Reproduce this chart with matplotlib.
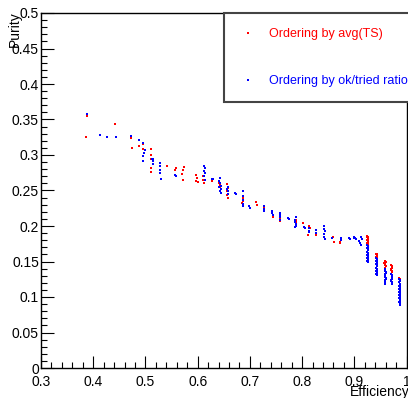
import matplotlib
matplotlib.use("Agg")
import matplotlib.pyplot as plt
from matplotlib.ticker import MultipleLocator, FormatStrFormatter

plt.rcParams['font.family'] = ['Liberation Sans', 'DejaVu Sans']

# Ordering by avg(TS)  (red)
eff_ts = [0.388, 0.386, 0.4415, 0.4715, 0.474, 0.4874, 0.495, 0.496, 0.510, 0.511,
          0.5136, 0.511, 0.5115, 0.511, 0.5415, 0.5576, 0.557, 0.5702, 0.5735, 0.572,
          0.571, 0.596, 0.598, 0.597, 0.600, 0.6112, 0.611, 0.6115, 0.6276, 0.6414,
          0.642, 0.6435, 0.656, 0.658, 0.657, 0.656, 0.658, 0.6863, 0.686, 0.685,
          0.712, 0.714, 0.7275, 0.727, 0.7427, 0.744, 0.758, 0.7585, 0.7877, 0.788,
          0.787, 0.7875, 0.8016, 0.8135, 0.815, 0.812, 0.8259, 0.826, 0.8584, 0.8603,
          0.8718, 0.873,
          0.925, 0.927, 0.926, 0.924, 0.927, 0.925, 0.926, 0.927, 0.924, 0.926, 0.925,
          0.942, 0.944, 0.943, 0.942, 0.944, 0.943, 0.941,
          0.958, 0.960, 0.959, 0.958, 0.960, 0.959, 0.957, 0.960,
          0.971, 0.973, 0.972, 0.971, 0.973, 0.972, 0.971, 0.972, 0.973, 0.970,
          0.986, 0.988, 0.987, 0.986, 0.988]
pur_ts = [0.355, 0.325, 0.344, 0.324, 0.310, 0.313, 0.3085, 0.316, 0.309, 0.300,
          0.295, 0.294, 0.281, 0.276, 0.284, 0.281, 0.279, 0.2737, 0.283, 0.279,
          0.265, 0.272, 0.268, 0.264, 0.262, 0.270, 0.265, 0.261, 0.263, 0.261,
          0.255, 0.258, 0.259, 0.254, 0.249, 0.243, 0.240, 0.239, 0.235, 0.233,
          0.234, 0.230, 0.227, 0.223, 0.218, 0.213, 0.211, 0.2075, 0.208, 0.203,
          0.199, 0.2055, 0.204, 0.200, 0.197, 0.187, 0.190, 0.187, 0.184, 0.178,
          0.177, 0.176,
          0.186, 0.184, 0.182, 0.180, 0.178, 0.176, 0.174, 0.172, 0.185, 0.179, 0.175,
          0.161, 0.159, 0.157, 0.155, 0.153, 0.160, 0.156,
          0.151, 0.149, 0.147, 0.145, 0.143, 0.141, 0.148, 0.144,
          0.145, 0.143, 0.141, 0.139, 0.137, 0.135, 0.133, 0.131, 0.144, 0.138,
          0.127, 0.125, 0.123, 0.121, 0.126]

# Ordering by ok/tried ratio  (blue)
eff_ok = [0.388, 0.413, 0.4257, 0.444, 0.4715, 0.4874, 0.4956, 0.500, 0.498, 0.495,
          0.4956, 0.5123, 0.5142, 0.5136, 0.5136,
          0.527, 0.528, 0.527, 0.528, 0.529,
          0.5582, 0.556,
          0.613, 0.614, 0.613, 0.614, 0.613, 0.614,
          0.6276, 0.630,
          0.642, 0.641, 0.642, 0.641, 0.642, 0.6442, 0.644, 0.6445,
          0.6576, 0.657, 0.658, 0.6575,
          0.671, 0.673,
          0.6869, 0.687, 0.686, 0.687, 0.6865,
          0.6978, 0.700,
          0.727, 0.728, 0.7275,
          0.742, 0.743, 0.7435,
          0.758, 0.758, 0.7585, 0.758,
          0.7724, 0.775,
          0.7877, 0.787, 0.788, 0.7875, 0.787, 0.787, 0.788,
          0.8035, 0.806,
          0.8135, 0.814, 0.8135,
          0.8273, 0.8275,
          0.8425, 0.842, 0.843, 0.8425, 0.842, 0.843,
          0.8565,
          0.8737, 0.874,
          0.889, 0.891,
          0.8986, 0.899,
          0.9095, 0.910,
          0.9018, 0.9025,
          0.9125, 0.914, 0.912,
          0.925, 0.927, 0.926, 0.925, 0.927, 0.926, 0.925, 0.927, 0.926,
          0.926, 0.925, 0.927, 0.926, 0.925, 0.927, 0.926, 0.925,
          0.942, 0.943, 0.944, 0.942, 0.943, 0.944, 0.942, 0.943, 0.944,
          0.943, 0.942, 0.944, 0.943, 0.942, 0.944, 0.943, 0.942,
          0.958, 0.959, 0.960, 0.958, 0.959, 0.960, 0.958, 0.959,
          0.959, 0.960, 0.958, 0.959, 0.960, 0.958, 0.959,
          0.971, 0.972, 0.973, 0.971, 0.972, 0.973,
          0.972, 0.973, 0.971, 0.972, 0.973,
          0.986, 0.987, 0.988, 0.986, 0.987, 0.988, 0.986, 0.987, 0.988, 0.986,
          0.987, 0.988, 0.987,
          0.988, 0.986, 0.987, 0.988, 0.986, 0.987, 0.988, 0.986, 0.987, 0.988,
          0.986, 0.987]
pur_ok = [0.358, 0.328, 0.326, 0.326, 0.327, 0.321, 0.3176, 0.3066, 0.303, 0.299,
          0.291, 0.294, 0.291, 0.287, 0.2948,
          0.289, 0.284, 0.279, 0.274, 0.266,
          0.2708, 0.272,
          0.285, 0.281, 0.277, 0.274, 0.270, 0.265,
          0.2666, 0.2655,
          0.268, 0.264, 0.260, 0.255, 0.249, 0.257, 0.252, 0.2465,
          0.255, 0.252, 0.249, 0.2455,
          0.247, 0.245,
          0.249, 0.242, 0.236, 0.231, 0.228,
          0.228, 0.226,
          0.228, 0.2245, 0.221,
          0.221, 0.219, 0.2155,
          0.2185, 0.2155, 0.213, 0.209,
          0.2117, 0.2105,
          0.212, 0.208, 0.203, 0.200, 0.198, 0.206, 0.2025,
          0.198, 0.1975,
          0.197, 0.193, 0.191,
          0.194, 0.1906,
          0.200, 0.196, 0.193, 0.189, 0.185, 0.181,
          0.183,
          0.183, 0.180,
          0.183, 0.182,
          0.184, 0.183,
          0.179, 0.176,
          0.183, 0.181,
          0.185, 0.182, 0.173,
          0.173, 0.170, 0.167, 0.164, 0.161, 0.158, 0.155, 0.152, 0.150,
          0.1715, 0.1685, 0.1655, 0.1625, 0.1595, 0.1565, 0.1535, 0.151,
          0.155, 0.152, 0.149, 0.146, 0.143, 0.140, 0.137, 0.134, 0.131,
          0.1535, 0.1505, 0.1475, 0.1445, 0.1415, 0.1385, 0.1355, 0.1325,
          0.140, 0.137, 0.134, 0.131, 0.128, 0.125, 0.122, 0.119,
          0.1385, 0.1355, 0.1325, 0.1295, 0.1265, 0.1235, 0.1205,
          0.132, 0.129, 0.126, 0.123, 0.120, 0.119,
          0.1305, 0.1275, 0.1245, 0.1215, 0.1195,
          0.125, 0.122, 0.119, 0.116, 0.113, 0.110, 0.107, 0.104, 0.101, 0.098,
          0.095, 0.092, 0.089,
          0.1235, 0.1205, 0.1175, 0.1145, 0.1115, 0.1085, 0.1055, 0.1025, 0.0995, 0.0965,
          0.0935, 0.0905]

W, H = 408, 398
fig = plt.figure(figsize=(W / 100, H / 100), dpi=100)
ax = fig.add_axes([41 / W, 1 - 368 / H, 365.5 / W, 355 / H])

ax.scatter(eff_ts, pur_ts, s=4.5, marker='s', color='#ff0000', linewidths=0,
           label='Ordering by avg(TS)')
ax.scatter(eff_ok, pur_ok, s=4.5, marker='s', color='#0000ff', linewidths=0,
           label='Ordering by ok/tried ratio')

ax.set_xlim(0.3, 1.0)
ax.set_ylim(0, 0.5)
ax.xaxis.set_major_locator(MultipleLocator(0.1))
ax.xaxis.set_minor_locator(MultipleLocator(0.02))
ax.yaxis.set_major_locator(MultipleLocator(0.05))
ax.yaxis.set_minor_locator(MultipleLocator(0.01))
ax.xaxis.set_major_formatter(FormatStrFormatter('%g'))
ax.yaxis.set_major_formatter(FormatStrFormatter('%g'))
ax.tick_params(which='both', direction='in', top=False, right=False,
               labelsize=10, width=0.8, color='black')
ax.tick_params(axis='x', which='major', length=9, pad=5)
ax.tick_params(axis='x', which='minor', length=4.5)
ax.tick_params(axis='y', which='major', length=9, pad=1.5)
ax.tick_params(axis='y', which='minor', length=4.5)
for sp in ax.spines.values():
    sp.set_linewidth(1.0)
    sp.set_color('black')

fig.text(15 / W, 1 - 11 / H, 'Purity', rotation=90, ha='center', va='top', fontsize=10)
fig.text(1.003, 1 - 392 / H, 'Efficiency', ha='right', va='center', fontsize=10)

leg = ax.legend(loc='upper left', bbox_to_anchor=(224 / W, 1 - 12.7 / H),
                bbox_transform=fig.transFigure, fontsize=9, frameon=True,
                fancybox=False, framealpha=1, borderpad=1.2, labelspacing=2.8,
                handlelength=1.4, handletextpad=1.0, borderaxespad=0,
                markerscale=0.45, scatterpoints=1)
leg.get_frame().set_edgecolor('#444444')
leg.get_frame().set_linewidth(1.5)
for txt, c in zip(leg.get_texts(), ['#ff0000', '#0000ff']):
    txt.set_color(c)

fig.savefig('out.png', dpi=100)
